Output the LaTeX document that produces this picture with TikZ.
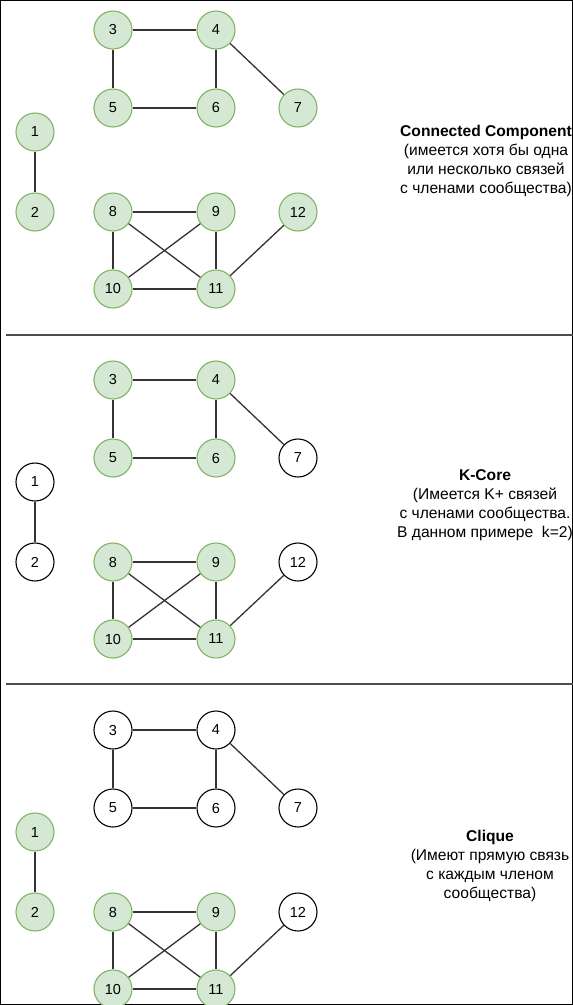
\documentclass[tikz,border=0pt]{standalone}
\usepackage{fontspec}
\setmainfont{Liberation Sans}
\definecolor{gfill}{HTML}{D5E8D4}
\definecolor{gline}{HTML}{82B366}
\definecolor{edgecol}{HTML}{333333}
\tikzset{
  vert/.style={circle, minimum size=38pt, inner sep=0pt, line width=1.1pt,
               font=\fontsize{14.5}{14.5}\selectfont},
  green/.style={vert, draw=gline, fill=gfill},
  white/.style={vert, draw=black, fill=white},
  link/.style={draw=edgecol, line width=1.3pt},
  caption/.style={align=center, font=\fontsize{15.6}{19}\selectfont},
  divider/.style={draw=black!70, line width=1.5pt}
}
% one graph: #1 name prefix, #2 vertical shift, styles for
% #3 vertices 3-6, #4 vertex 7, #5 vertices 1-2, #6 vertices 8-11, #7 vertex 12
\newcommand\graphpanel[7]{%
  \begin{scope}[yshift=-#2pt, name prefix=#1-]
    \node[#3] (n3)  at (113,30)  {3};
    \node[#3] (n4)  at (216,30)  {4};
    \node[#3] (n5)  at (113,108) {5};
    \node[#3] (n6)  at (216,108) {6};
    \node[#4] (n7)  at (298,108) {7};
    \node[#5] (n1)  at (35,132)  {1};
    \node[#5] (n2)  at (35,212)  {2};
    \node[#6] (n8)  at (113,212) {8};
    \node[#6] (n9)  at (216,212) {9};
    \node[#7] (n12) at (298,212) {12};
    \node[#6] (n10) at (113,289) {10};
    \node[#6] (n11) at (216,289) {11};
    \draw[link] (n3) -- (n4);
    \draw[link] (n3) -- (n5);
    \draw[link] (n4) -- (n6);
    \draw[link] (n5) -- (n6);
    \draw[link] (n4) -- (n7);
    \draw[link] (n1) -- (n2);
    \draw[link] (n8) -- (n9);
    \draw[link] (n8) -- (n10);
    \draw[link] (n8) -- (n11);
    \draw[link] (n9) -- (n10);
    \draw[link] (n9) -- (n11);
    \draw[link] (n10) -- (n11);
    \draw[link] (n12) -- (n11);
  \end{scope}}
\begin{document}
\begin{tikzpicture}[x=1pt, y=-1pt]
  \useasboundingbox (0,0) rectangle (573,1005);
  \fill[white] (0,0) rectangle (573,1005);

  \graphpanel{cc}{0}{green}{green}{green}{green}{green}
  \graphpanel{kc}{350}{green}{white}{white}{green}{white}
  \graphpanel{cl}{700}{white}{white}{green}{green}{white}

  \coordinate (d1l) at (6,335);
  \coordinate (d1r) at (573,335);
  \coordinate (d2l) at (6,684);
  \coordinate (d2r) at (573,684);
  \draw[divider] (d1l) -- (d1r);
  \draw[divider] (d2l) -- (d2r);

  \node[caption] (capcc) at (486,161)
    {\textbf{Connected Component}\\(имеется хотя бы одна\\или несколько связей\\с членами сообщества)};
  \node[caption] (capkc) at (485,505)
    {\textbf{K-Core}\\(Имеется K+ связей\\с членами сообщества.\\В данном примере~~k=2)};
  \node[caption] (capcl) at (490,866)
    {\textbf{Clique}\\(Имеют прямую связь\\с каждым членом\\сообщества)};
\end{tikzpicture}
\end{document}
